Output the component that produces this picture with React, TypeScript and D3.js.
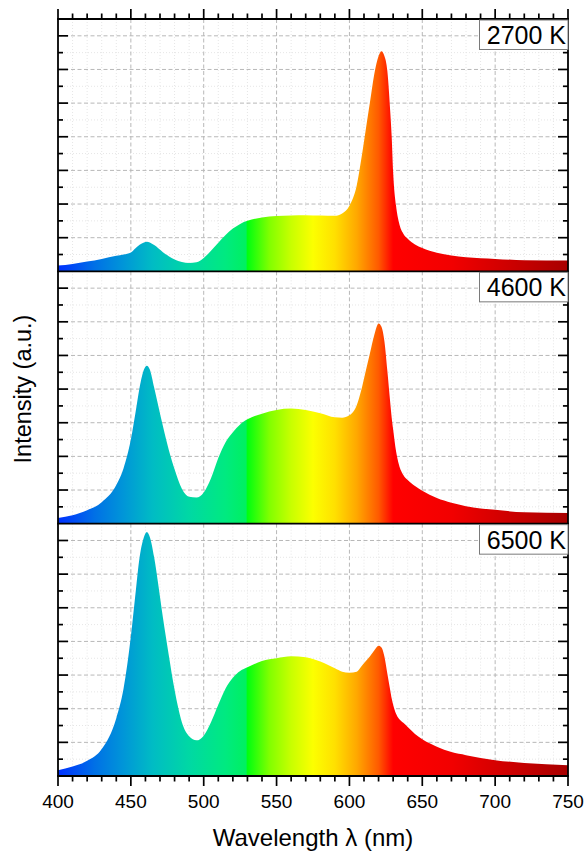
import React from "react";
import * as d3 from "d3";

// ---- data ----
const wavelengths = [
  400, 410, 420, 430, 440, 445, 450, 453, 456, 459, 461, 463, 466, 469, 472, 476, 480, 485, 490, 495,
  500, 505, 510, 515, 520, 525, 530, 540, 550, 560, 570, 580, 590, 595, 600, 605, 608, 611, 614, 617,
  620, 622, 624, 626, 628, 629, 630, 632, 634, 637, 640, 645, 650, 660, 670, 680, 700, 720, 750,
];

const cct2700 = [
  0.17, 0.22, 0.29, 0.37, 0.46, 0.5, 0.56, 0.68, 0.79, 0.86, 0.88, 0.86, 0.78, 0.68, 0.57, 0.45, 0.35, 0.28, 0.25, 0.27,
  0.4, 0.61, 0.85, 1.08, 1.27, 1.41, 1.5, 1.6, 1.645, 1.66, 1.67, 1.66, 1.65, 1.72, 1.95, 2.55, 3.3, 4.15, 5.0, 5.85,
  6.4, 6.54, 6.4, 5.96, 4.75, 4.0, 2.95, 1.95, 1.45, 1.12, 0.97, 0.8, 0.69, 0.55, 0.47, 0.42, 0.37, 0.33, 0.32,
];

const cct4600 = [
  0.17, 0.25, 0.4, 0.64, 1.15, 1.65, 2.5, 3.25, 4.05, 4.58, 4.69, 4.58, 4.05, 3.47, 2.9, 2.2, 1.62, 1.04, 0.8, 0.78,
  0.93, 1.35, 1.95, 2.42, 2.72, 2.95, 3.1, 3.27, 3.38, 3.42, 3.38, 3.28, 3.16, 3.15, 3.22, 3.52, 3.95, 4.5, 5.05, 5.6,
  5.95, 5.85, 5.42, 4.55, 3.6, 3.15, 2.8, 2.15, 1.75, 1.45, 1.3, 1.12, 0.98, 0.76, 0.62, 0.52, 0.41, 0.34, 0.32,
];

const cct6500 = [
  0.17, 0.28, 0.45, 0.8, 1.72, 2.6, 4.15, 5.35, 6.5, 7.1, 7.25, 7.1, 6.5, 5.63, 4.71, 3.6, 2.56, 1.6, 1.18, 1.06,
  1.2, 1.6, 2.12, 2.6, 2.92, 3.12, 3.23, 3.42, 3.5, 3.56, 3.53, 3.4, 3.2, 3.1, 3.07, 3.1, 3.25, 3.4, 3.55, 3.73,
  3.87, 3.82, 3.55, 3.05, 2.55, 2.3, 2.12, 1.85, 1.7, 1.58, 1.46, 1.25, 1.09, 0.87, 0.71, 0.62, 0.47, 0.39, 0.32,
];

const panelLabels = ["2700 K", "4600 K", "6500 K"];
const panelSeries = [cct2700, cct4600, cct6500];
const xTickValues = [400, 450, 500, 550, 600, 650, 700, 750];
const xTitle = "Wavelength \u03bb (nm)";
const yTitle = "Intensity (a.u.)";

// spectral colour ramp (wavelength -> colour)
const rampNm = [400, 425, 445, 465, 490, 515, 529, 530, 545, 560, 575, 590, 605, 620, 630, 670, 750];
const rampColors = [
  "#0030ff", "#0070e6", "#0096d8", "#00bcc4", "#00d8a4", "#00ea80", "#00f060", "#00ff10",
  "#80ff00", "#c8ff00", "#fcff00", "#ffe000", "#ffa800", "#ff5a00", "#ff0000", "#f20000", "#a80000",
];

export default function App() {
  const W = 587;
  const H = 857;
  const left = 58;
  const right = 568;
  const top = 19;
  const bottom = 776;
  const ph = (bottom - top) / 3;
  const font = "'Liberation Sans', Arial, Helvetica, sans-serif";

  const x = d3.scaleLinear().domain([400, 750]).range([left, right]);
  const minorX = d3.range(400, 751, 10);

  const panels = panelSeries.map((vals, i) => {
    const t = top + i * ph;
    const y = d3.scaleLinear().domain([0, 7.5]).range([t + ph, t]);
    const pts = wavelengths.map((nm, j) => ({ nm, v: vals[j] }));
    const area = d3
      .area<{ nm: number; v: number }>()
      .x((d) => x(d.nm))
      .y0(y(0))
      .y1((d) => y(d.v))
      .curve(d3.curveMonotoneX);
    return { t, y, path: area(pts) || "", label: panelLabels[i] };
  });

  const majorY = d3.range(1, 7.01, 1);
  const minorY = d3.range(0.5, 7.5, 1);

  return (
    <svg
      width={W}
      height={H}
      style={{ position: "absolute", left: 0, top: 0, background: "#fff" }}
      fontFamily={font}
    >
      <defs>
        <linearGradient id="spec" gradientUnits="userSpaceOnUse" x1={x(400)} x2={x(750)} y1={0} y2={0}>
          {rampNm.map((nm, i) => (
            <stop key={i} offset={(nm - 400) / 350} stopColor={rampColors[i]} />
          ))}
        </linearGradient>
      </defs>
      <rect x={0} y={0} width={W} height={H} fill="#fff" />

      {panels.map((p, i) => (
        <g key={"grid" + i}>
          {minorX
            .filter((v) => v % 50 !== 0)
            .map((v) => (
              <line key={"vx" + v} x1={x(v)} x2={x(v)} y1={p.t} y2={p.t + ph} stroke="#e6e6e6" strokeWidth={1} strokeDasharray="1,2" />
            ))}
          {minorY.map((v) => (
            <line key={"hy" + v} x1={left} x2={right} y1={p.y(v)} y2={p.y(v)} stroke="#e6e6e6" strokeWidth={1} strokeDasharray="1,2" />
          ))}
          {xTickValues
            .filter((v) => v > 400 && v < 750)
            .map((v) => (
              <line key={"Vx" + v} x1={x(v)} x2={x(v)} y1={p.t} y2={p.t + ph} stroke="#b8b8b8" strokeWidth={1} strokeDasharray="4,2.5" />
            ))}
          {majorY.map((v) => (
            <line key={"Hy" + v} x1={left} x2={right} y1={p.y(v)} y2={p.y(v)} stroke="#b8b8b8" strokeWidth={1} strokeDasharray="4,2.5" />
          ))}
        </g>
      ))}

      {panels.map((p, i) => (
        <path key={"area" + i} d={p.path} fill="url(#spec)" />
      ))}

      {/* y ticks, inward on both sides */}
      {panels.map((p, i) => (
        <g key={"yt" + i} stroke="#000" strokeWidth={1.7}>
          {majorY.map((v) => (
            <g key={"M" + v}>
              <line x1={left} x2={left + 10} y1={p.y(v)} y2={p.y(v)} />
              <line x1={right} x2={right - 10} y1={p.y(v)} y2={p.y(v)} />
            </g>
          ))}
          {minorY.map((v) => (
            <g key={"m" + v}>
              <line x1={left} x2={left + 5} y1={p.y(v)} y2={p.y(v)} />
              <line x1={right} x2={right - 5} y1={p.y(v)} y2={p.y(v)} />
            </g>
          ))}
        </g>
      ))}

      {/* x ticks: outward on top and bottom */}
      <g stroke="#000" strokeWidth={1.7}>
        {minorX.map((v) => {
          const len = v % 50 === 0 ? 10 : 5.5;
          return (
            <g key={"xt" + v}>
              <line x1={x(v)} x2={x(v)} y1={top} y2={top - len} />
              <line x1={x(v)} x2={x(v)} y1={bottom} y2={bottom + len} />
            </g>
          );
        })}
      </g>

      {/* frame + panel separators */}
      <g stroke="#000" strokeWidth={1.8} fill="none">
        <line x1={left} x2={left} y1={top} y2={bottom} />
        <line x1={right} x2={right} y1={top} y2={bottom} />
        {[0, 1, 2, 3].map((k) => (
          <line key={"sep" + k} x1={left - 0.9} x2={right + 0.9} y1={top + k * ph} y2={top + k * ph} />
        ))}
      </g>

      {/* panel labels */}
      {panels.map((p, i) => (
        <g key={"lab" + i}>
          <rect x={479.5} y={p.t + 1} width={right - 479.5} height={29.5} fill="#fff" stroke="#7a7a7a" strokeWidth={1} />
          <text x={566} y={p.t + 25} textAnchor="end" fontSize={25} fill="#000">
            {p.label}
          </text>
        </g>
      ))}

      {/* x tick labels */}
      {xTickValues.map((v) => (
        <text key={"xl" + v} x={x(v)} y={808} textAnchor="middle" fontSize={19} fill="#000">
          {v}
        </text>
      ))}

      <text x={(left + right) / 2} y={846} textAnchor="middle" fontSize={24} fill="#000">
        {xTitle}
      </text>
      <text transform={`translate(30.5, 389) rotate(-90)`} textAnchor="middle" fontSize={23.5} fill="#000">
        {yTitle}
      </text>
    </svg>
  );
}
